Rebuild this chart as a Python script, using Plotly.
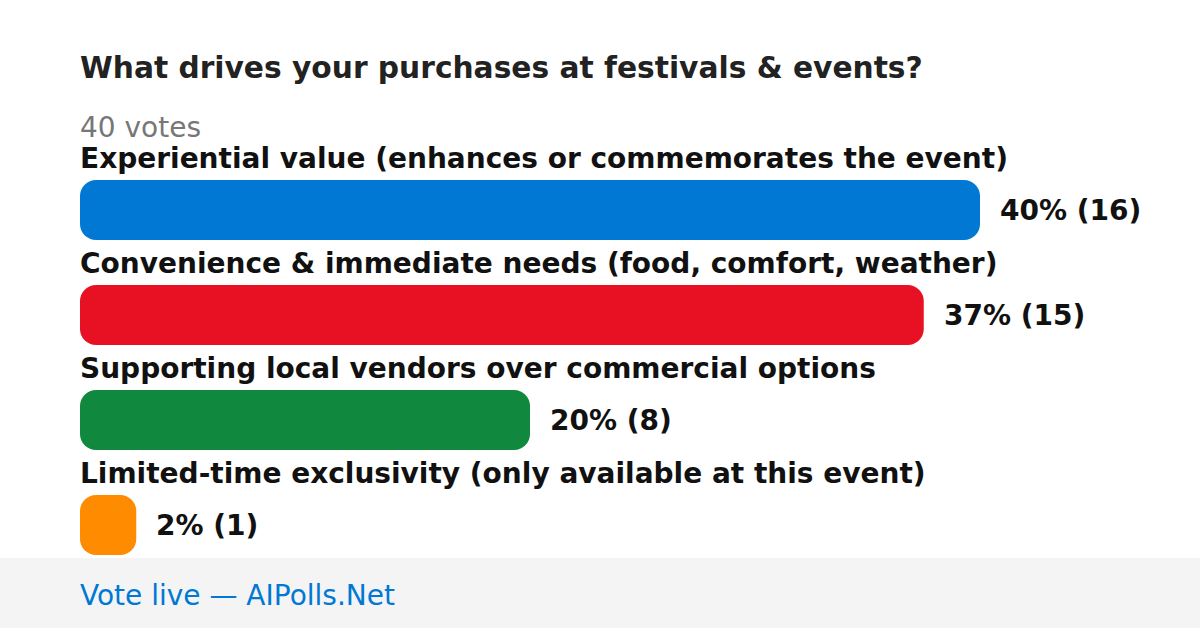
import plotly.graph_objects as go

# poll data
question = "What drives your purchases at festivals & events?"
total_votes = 40
options = [
    "Experiential value (enhances or commemorates the event)",
    "Convenience & immediate needs (food, comfort, weather)",
    "Supporting local vendors over commercial options",
    "Limited-time exclusivity (only available at this event)",
]
votes = [16, 15, 8, 1]
percents = [40, 37, 20, 2]
colors = ["#0078D4", "#E81123", "#10893E", "#FF8C00"]

W, H = 1200, 628
FONT = "DejaVu Sans"

rows = list(range(len(options)))

fig = go.Figure()
fig.add_trace(go.Bar(
    x=votes, y=rows, orientation="h", base=0,
    marker=dict(color=colors, cornerradius=16, line=dict(width=0)),
    width=60 / 105, hoverinfo="skip",
))

# px per vote = 900/16, bars start at x=80px, rows 105px apart, first row centred at 210px
ppv = 900 / 16
x_range = [-80 / ppv, (W - 80) / ppv]
y_range = [(H - 210) / 105, -210 / 105]

annotations = []
for i, opt in enumerate(options):
    annotations.append(dict(
        x=0, y=i, xref="x", yref="y", text="<b>" + opt + "</b>",
        xanchor="left", yanchor="middle", xshift=-2, yshift=52, showarrow=False,
        font=dict(family=FONT, size=28, color="#111111"),
    ))
    annotations.append(dict(
        x=votes[i], y=i, xref="x", yref="y",
        text="<b>%d%% (%d)</b>" % (percents[i], votes[i]),
        xanchor="left", yanchor="middle", xshift=18, showarrow=False,
        font=dict(family=FONT, size=28, color="#111111"),
    ))

annotations.append(dict(
    x=80 / W, y=1 - 68 / H, xref="paper", yref="paper", text="<b>" + question + "</b>",
    xanchor="left", yanchor="middle", xshift=-2, showarrow=False,
    font=dict(family=FONT, size=29.7, color="#222222"),
))
annotations.append(dict(
    x=80 / W, y=1 - 127 / H, xref="paper", yref="paper", text="%d votes" % total_votes,
    xanchor="left", yanchor="middle", xshift=-2, showarrow=False,
    font=dict(family=FONT, size=28, color="#777777"),
))
annotations.append(dict(
    x=80 / W, y=1 - 595 / H, xref="paper", yref="paper", text="Vote live — AIPolls.Net",
    xanchor="left", yanchor="middle", xshift=-2, showarrow=False,
    font=dict(family=FONT, size=28, color="#0078D4"),
))

fig.update_layout(
    width=W, height=H,
    margin=dict(l=0, r=0, t=0, b=0),
    paper_bgcolor="white", plot_bgcolor="white",
    showlegend=False,
    xaxis=dict(range=x_range, visible=False, fixedrange=True),
    yaxis=dict(range=y_range, visible=False, fixedrange=True),
    shapes=[dict(type="rect", xref="paper", yref="paper", x0=0, x1=1,
                 y0=0, y1=(H - 558) / H, fillcolor="#F4F4F4", line=dict(width=0), layer="below")],
    annotations=annotations,
)

# page has a default 8px body margin, drop it so the figure sits at 0,0
fig.write_html("out.html", config={"displayModeBar": False},
               post_script="document.body.style.margin='0';")
